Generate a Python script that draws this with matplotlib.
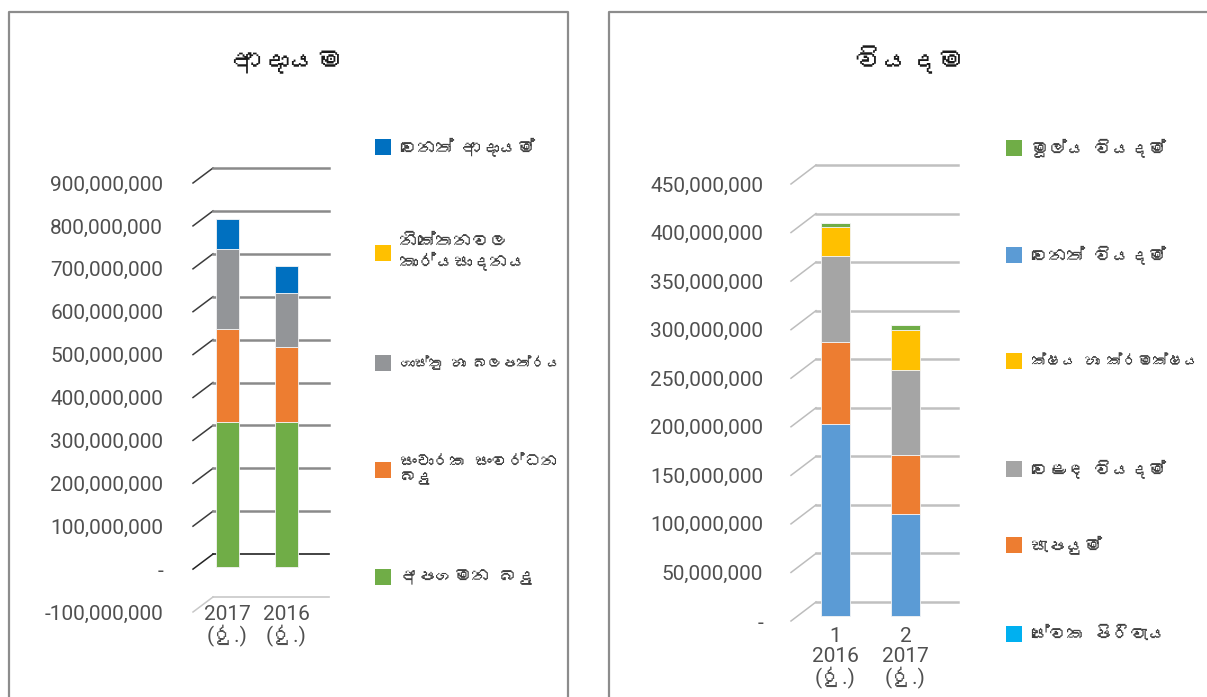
import matplotlib
matplotlib.use("Agg")
import matplotlib.pyplot as plt
from matplotlib.patches import Rectangle
from matplotlib.lines import Line2D
from matplotlib import font_manager as fm
from matplotlib.ft2font import FT2Font
from matplotlib.transforms import offset_copy

# ---- data (values in rupees) ----
inc_years = ["2017\n(රු.)", "2016\n(රු.)"]
inc_names = ["අපගමන බදු", "සංචාරක සංවර්ධන\nබදු", "ගාස්තු හා බලපත්රය",
             "නිකේතනවල\nකාර්යසාදනය", "වෙනත් ආදායම්"]
inc_colors = ["#70AD47", "#ED7D31", "#939598", "#FFC000", "#0070C0"]
inc_green = [339e6, 339e6]
inc_orange = [216e6, 174e6]
inc_gray = [186e6, 126e6]
inc_yellow = [0, 0]
inc_blue = [70e6, 63e6]
inc_ticks = [-100e6, 0, 100e6, 200e6, 300e6, 400e6, 500e6, 600e6, 700e6, 800e6, 900e6]

exp_years = ["1\n2016\n(රු.)", "2\n2017\n(රු.)"]
exp_names = ["වෙනත් වියදම්", "සැපයුම්", "වෙළඳ වියදම්", "ක්ෂය හා ක්රමක්ෂය",
             "මූල්ය වියදම්", "සේවක පිරිවැය"]
exp_colors = ["#5B9BD5", "#ED7D31", "#A5A5A5", "#FFC000", "#70AD47", "#00B0F0"]
exp_blue = [198e6, 105e6]
exp_orange = [84e6, 61e6]
exp_gray = [89e6, 87e6]
exp_yellow = [30e6, 42e6]
exp_green = [4e6, 5e6]
exp_cyan = [0, 0]
exp_ticks = [0, 50e6, 100e6, 150e6, 200e6, 250e6, 300e6, 350e6, 400e6, 450e6]

# legend order as shown (top to bottom)
inc_legend = [4, 3, 2, 1, 0]
exp_legend = [4, 0, 3, 2, 1, 5]


# look for a font that can draw Sinhala
def find_sinhala():
    for f in fm.fontManager.ttflist:
        try:
            if FT2Font(f.fname).get_char_index(0x0DB8):
                return f.name
        except Exception:
            pass
    return None


sin = find_sinhala()
extra = [sin] if sin else []
num_font = ["Roboto", "Lato"] + extra + ["DejaVu Sans"]
txt_font = extra + ["Lato", "DejaVu Sans"]
plt.rcParams["font.family"] = txt_font

W, H = 1207, 697
fig = plt.figure(figsize=(W / 100, H / 100), dpi=100)


def fx(x):
    return x / W


def fy(y):
    return 1 - y / H


# panel frames
for xs, ys in [([9, 9, 568, 568], [H, 12, 12, H]), ([609, 609, W + 5], [H, 12, 12])]:
    fig.add_artist(Line2D([fx(v) for v in xs], [fy(v) for v in ys], color="#8c8c8c", lw=1.6))


def make_chart(box, ylim, xlim, ticks, stacks, colors, width, bar_lift, back, line_col, stub_col,
               zero_col, floor_col, pad):
    x0px, x1px, ybot, ytop = box
    ax = fig.add_axes([fx(x0px), fy(ybot), (x1px - x0px) / W, (ybot - ytop) / H])
    ax.set_xlim(xlim)
    ax.set_ylim(ylim)
    for s in ax.spines.values():
        s.set_visible(False)
    ax.set_xticks([])
    labels = ["-" if t == 0 else "{:,}".format(int(t)) for t in ticks]
    ax.set_yticks(ticks, labels)
    ax.tick_params(axis="y", length=0, pad=pad, labelsize=15, labelcolor="#505050")
    for lab in ax.get_yticklabels():
        lab.set_family(num_font)

    dx = back[0] / (x1px - x0px) * (xlim[1] - xlim[0])
    dy = back[1] / (ybot - ytop) * (ylim[1] - ylim[0])
    for t in ticks:
        lc, sc, lw = line_col, stub_col, 1.8
        if t == 0 and zero_col:
            lc = sc = zero_col
            lw = 1.2
        if t < 0:
            lc = sc = floor_col
            lw = 1.2
        ax.plot([xlim[0], xlim[0] + dx], [t, t + dy], color=sc, lw=1.1, clip_on=False, zorder=1)
        ax.plot([xlim[0] + dx, xlim[1]], [t + dy, t + dy], color=lc, lw=lw, clip_on=False, zorder=1)

    tr = offset_copy(ax.transData, fig=fig, x=0, y=bar_lift, units="dots")
    bottom = [0, 0]
    for vals, col in zip(stacks, colors):
        bars = ax.bar([0, 1], vals, width, bottom=bottom, color=col, zorder=3,
                      edgecolor="#f4f4f4", linewidth=0.6)
        for p in bars:
            p.set_transform(tr)
        bottom = [b + v for b, v in zip(bottom, vals)]
    return ax


ax1 = make_chart((193, 329, 612, 183), (-100e6, 900e6), (-0.585, 1.72), inc_ticks,
                 [inc_green, inc_orange, inc_gray, inc_yellow, inc_blue], inc_colors,
                 0.38, 2, (20, 15), "#8a8a8a", "#3c3c3c", "#222222", "#c8c8c8", 21.5)
ax2 = make_chart((791, 958, 621, 184), (0, 450e6), (-0.636, 1.75), exp_ticks,
                 [exp_blue, exp_orange, exp_gray, exp_yellow, exp_green, exp_cyan], exp_colors,
                 0.414, 5, (25, 19), "#c0c0c0", "#bdbdbd", None, None, 20)

# category labels under the bars
for ax, cats, y0 in [(ax1, inc_years, -100e6), (ax2, exp_years, 0)]:
    for i, c in enumerate(cats):
        ax.annotate(c, (i, y0), xytext=(0, 5 if y0 < 0 else -4), textcoords="offset points",
                    ha="center", va="top", fontsize=15, color="#505050", linespacing=1.08,
                    family=num_font, annotation_clip=False)

# titles
fig.text(fx(289), fy(62), "ආදායම", ha="center", va="center", fontsize=20,
         fontweight="bold", color="#1a1a1a")
fig.text(fx(910), fy(60), "වියදම", ha="center", va="center", fontsize=20,
         fontweight="bold", color="#1a1a1a")

# legends
renderer = fig.canvas.get_renderer()
for names, colors, order, ys, xsq, xtxt, maxw in [
        (inc_names, inc_colors, inc_legend, [147, 253, 363, 470, 577], 375, 400, 163),
        (exp_names, exp_colors, exp_legend, [148, 255, 361, 469, 545, 634], 1006, 1031, 168)]:
    for idx, y in zip(order, ys):
        fig.add_artist(Rectangle((fx(xsq), fy(y + 8)), 16 / W, 16 / H,
                                 facecolor=colors[idx], edgecolor="none"))
        t = fig.text(fx(xtxt), fy(y), names[idx], ha="left", va="center", fontsize=13,
                     color="#404040", linespacing=1.2)
        size = 13
        while t.get_window_extent(renderer).width > maxw and size > 8:
            size -= 0.5
            t.set_fontsize(size)

fig.savefig("out.png", dpi=100)
